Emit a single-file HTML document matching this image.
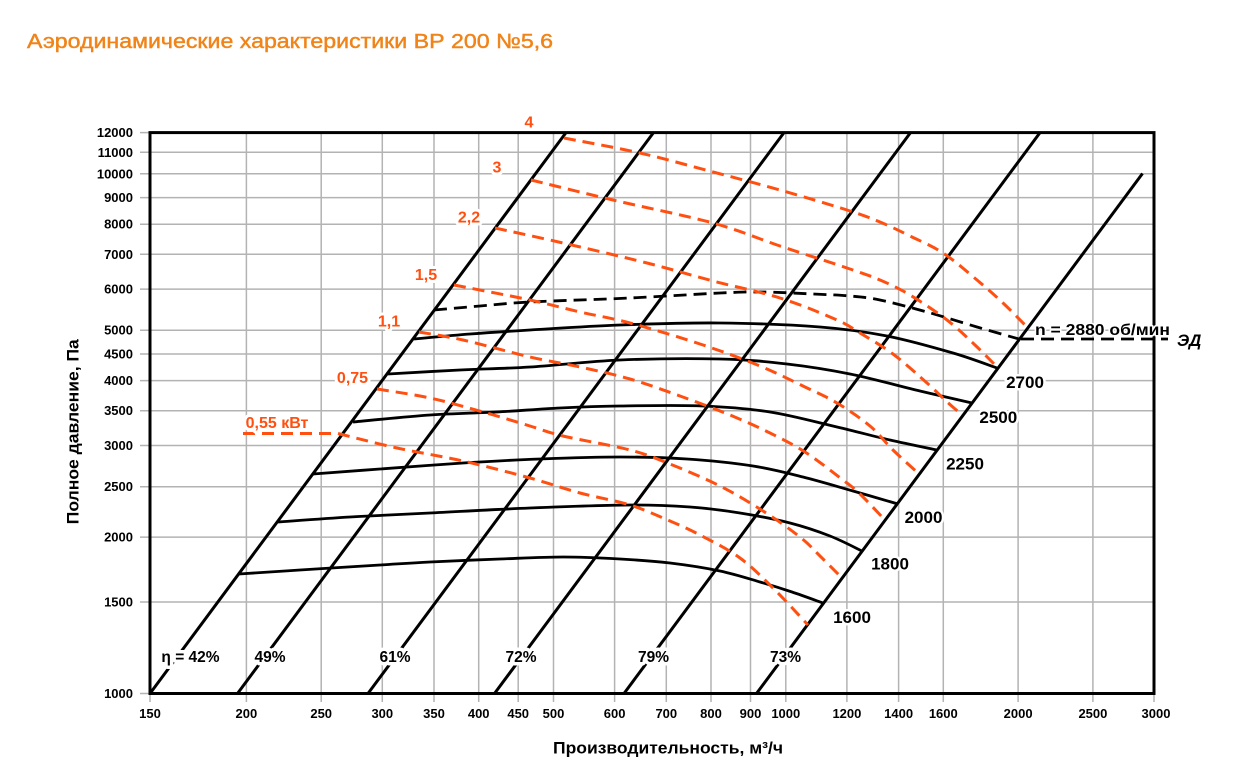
<!DOCTYPE html>
<html><head><meta charset="utf-8">
<style>
html,body{margin:0;padding:0;background:#fff;}
svg{display:block;}
.t{font-family:"Liberation Sans",Arial,sans-serif;font-weight:bold;}
</style></head>
<body>
<svg id="chart" width="1233" height="778" viewBox="0 0 1233 778" xmlns="http://www.w3.org/2000/svg">
<rect x="0" y="0" width="1233" height="778" fill="#fff"/>
<!-- Title -->
<text x="27" y="48" font-family="Liberation Sans, sans-serif" font-size="20.5" fill="#f08419" stroke="#f08419" stroke-width="0.45" textLength="526" lengthAdjust="spacingAndGlyphs">Аэродинамические характеристики ВР 200 №5,6</text>

<!-- Grid -->
<g stroke="#b3b3b3" stroke-width="1.5" fill="none">
<line x1="246.4" y1="132.6" x2="246.4" y2="702"/>
<line x1="321.2" y1="132.6" x2="321.2" y2="702"/>
<line x1="382.3" y1="132.6" x2="382.3" y2="702"/>
<line x1="434.0" y1="132.6" x2="434.0" y2="702"/>
<line x1="478.7" y1="132.6" x2="478.7" y2="702"/>
<line x1="518.2" y1="132.6" x2="518.2" y2="702"/>
<line x1="553.5" y1="132.6" x2="553.5" y2="702"/>
<line x1="614.6" y1="132.6" x2="614.6" y2="702"/>
<line x1="666.3" y1="132.6" x2="666.3" y2="702"/>
<line x1="711.0" y1="132.6" x2="711.0" y2="702"/>
<line x1="750.5" y1="132.6" x2="750.5" y2="702"/>
<line x1="785.8" y1="132.6" x2="785.8" y2="702"/>
<line x1="846.9" y1="132.6" x2="846.9" y2="702"/>
<line x1="898.6" y1="132.6" x2="898.6" y2="702"/>
<line x1="943.3" y1="132.6" x2="943.3" y2="702"/>
<line x1="1018.1" y1="132.6" x2="1018.1" y2="702"/>
<line x1="1092.9" y1="132.6" x2="1092.9" y2="702"/>
<line x1="150" y1="693.5" x2="150" y2="702"/>
<line x1="1154" y1="693.5" x2="1154" y2="702"/>

<line x1="140" y1="602.0" x2="1154" y2="602.0"/>
<line x1="140" y1="537.1" x2="1154" y2="537.1"/>
<line x1="140" y1="486.7" x2="1154" y2="486.7"/>
<line x1="140" y1="445.5" x2="1154" y2="445.5"/>
<line x1="140" y1="410.7" x2="1154" y2="410.7"/>
<line x1="140" y1="380.6" x2="1154" y2="380.6"/>
<line x1="140" y1="354.0" x2="1154" y2="354.0"/>
<line x1="140" y1="330.2" x2="1154" y2="330.2"/>
<line x1="140" y1="289.1" x2="1154" y2="289.1"/>
<line x1="140" y1="254.3" x2="1154" y2="254.3"/>
<line x1="140" y1="224.2" x2="1154" y2="224.2"/>
<line x1="140" y1="197.6" x2="1154" y2="197.6"/>
<line x1="140" y1="173.8" x2="1154" y2="173.8"/>
<line x1="140" y1="152.3" x2="1154" y2="152.3"/>
<line x1="140" y1="132.6" x2="150" y2="132.6"/>
<line x1="140" y1="693.5" x2="150" y2="693.5"/>
</g>

<!-- Y tick labels -->
<g class="t" font-size="13" fill="#000" text-anchor="end">
<text x="133" y="137.1">12000</text>
<text x="133" y="156.8">11000</text>
<text x="133" y="178.3">10000</text>
<text x="133" y="202.1">9000</text>
<text x="133" y="228.7">8000</text>
<text x="133" y="258.8">7000</text>
<text x="133" y="293.6">6000</text>
<text x="133" y="334.7">5000</text>
<text x="133" y="358.5">4500</text>
<text x="133" y="385.1">4000</text>
<text x="133" y="415.2">3500</text>
<text x="133" y="450.0">3000</text>
<text x="133" y="491.2">2500</text>
<text x="133" y="541.6">2000</text>
<text x="133" y="606.5">1500</text>
<text x="133" y="698.0">1000</text>
</g>

<!-- X tick labels -->
<g class="t" font-size="13" fill="#000" text-anchor="middle">
<text x="150" y="718">150</text>
<text x="246.4" y="718">200</text>
<text x="321.2" y="718">250</text>
<text x="382.3" y="718">300</text>
<text x="434.0" y="718">350</text>
<text x="478.7" y="718">400</text>
<text x="518.2" y="718">450</text>
<text x="553.5" y="718">500</text>
<text x="614.6" y="718">600</text>
<text x="666.3" y="718">700</text>
<text x="711.0" y="718">800</text>
<text x="750.5" y="718">900</text>
<text x="785.8" y="718">1000</text>
<text x="846.9" y="718">1200</text>
<text x="898.6" y="718">1400</text>
<text x="943.3" y="718">1600</text>
<text x="1018.1" y="718">2000</text>
<text x="1092.9" y="718">2500</text>
<text x="1156" y="718">3000</text>
</g>

<!-- Axis titles -->
<text class="t" x="668" y="753.5" font-size="17" text-anchor="middle" textLength="230" lengthAdjust="spacingAndGlyphs">Производительность, м³/ч</text>
<text class="t" transform="translate(78.5,431.7) rotate(-90)" font-size="17" text-anchor="middle" textLength="185" lengthAdjust="spacingAndGlyphs">Полное давление, Па</text>

<!-- Efficiency lines -->
<g stroke="#000" stroke-width="3" fill="none">
<line x1="150" y1="693.5" x2="566" y2="132.6"/>
<line x1="237.5" y1="693.5" x2="653.5" y2="132.6"/>
<line x1="368" y1="693.5" x2="784" y2="132.6"/>
<line x1="494.5" y1="693.5" x2="910.5" y2="132.6"/>
<line x1="624" y1="693.5" x2="1040" y2="132.6"/>
<line x1="756.5" y1="693.5" x2="1142.5" y2="173.5"/>
</g>

<!-- Speed curves -->
<g stroke="#000" stroke-width="2.8" fill="none" stroke-linejoin="round" stroke-linecap="butt">
<polyline class="s" points="239,574 300,570 380,565 430,562 500,559 563,557 620,559 670,563 720,571 760,582 792,592 823,603"/>
<polyline class="s" points="278,522 350,517 430,513 530,508 630,505 690,507 740,513 790,523 830,536 862,551"/>
<polyline class="s" points="313,474 380,469 463,463 540,459 620,457 687,459 753,466 803,477 853,491 898,504"/>
<polyline class="s" points="353,422 430,415 497,412 560,408 620,406 703,406 770,412 837,427 890,440 937,450"/>
<polyline class="s" points="388,374 460,370 530,367 620,360 720,359 787,364 850,374 920,391 972,403"/>
<polyline class="s" points="414,339 470,334 530,330 620,325 720,323 820,327 887,336 953,353 997,368"/>
<polyline class="s" stroke-dasharray="13 7" points="434,310 480,306 530,302 630,298 720,293 763,292 813,294 850,296 880,300 927,312 977,327 1019,339"/>
<line x1="1021" y1="339" x2="1168" y2="339" stroke-dasharray="13 7"/>
</g>

<!-- Power curves -->
<g stroke="#ff5011" stroke-width="3" fill="none" stroke-linejoin="round" stroke-dasharray="12 7">
<polyline points="243,433.5 338,433.5"/>
<polyline class="s" points="338,433.5 397,448 463,461 530,478 580,493 630,505 670,521 700,535 740,558 775,590 808,625"/>
<polyline class="s" points="377,389 430,398 483,412 530,426 563,436 630,450 670,464 720,486 763,511 800,537 820,556 842,578"/>
<polyline class="s" points="419,332 463,340 530,357 580,367 630,379 680,396 730,415 770,433 805,452 843,480 860,494 884,519"/>
<polyline class="s" points="454,285 530,300 580,312 630,323 700,344 760,366 805,387 837,403 870,426 893,450 918,473"/>
<polyline class="s" points="495,228 563,243 647,263 713,281 780,298 837,320 860,333 893,354 927,383 945,400 962,415"/>
<polyline class="s" points="531,180 613,200 713,223 780,246 847,268 880,280 910,295 947,320 975,345 998,368"/>
<polyline class="s" points="564,138 640,153 713,172 780,190 847,210 880,222 910,236 943,253 977,280 1003,303 1027,327"/>
</g>

<!-- Efficiency labels -->
<g class="t" font-size="15.5" fill="#000" text-anchor="middle" stroke="#fff" stroke-width="7" stroke-linejoin="round" paint-order="stroke">
<text x="190.5" y="662">η = 42%</text>
<text x="270" y="662">49%</text>
<text x="395" y="662">61%</text>
<text x="521" y="662">72%</text>
<text x="653.5" y="662">79%</text>
<text x="785.5" y="662">73%</text>
</g>

<!-- Power labels -->
<g class="t" font-size="16" fill="#ff5011" text-anchor="middle" stroke="#fff" stroke-width="6" stroke-linejoin="round" paint-order="stroke">
<text x="529" y="127.5">4</text>
<text x="497" y="172.5">3</text>
<text x="469" y="222.5">2,2</text>
<text x="426" y="280">1,5</text>
<text x="389" y="326.5">1,1</text>
<text x="352.5" y="383">0,75</text>
<text x="277" y="428">0,55 кВт</text>
</g>

<!-- Speed labels -->
<g class="t" font-size="17" fill="#000" text-anchor="middle" stroke="#fff" stroke-width="5" stroke-linejoin="round" paint-order="stroke">
<text x="852" y="623">1600</text>
<text x="890" y="569.5">1800</text>
<text x="923.5" y="523">2000</text>
<text x="965" y="469.5">2250</text>
<text x="998.3" y="423">2500</text>
<text x="1025" y="388">2700</text>
</g>

<!-- Plot border -->
<rect x="150" y="132.6" width="1004" height="560.9" fill="none" stroke="#000" stroke-width="3"/>

<text class="t" x="1035" y="335" font-size="16" fill="#000" stroke="#fff" stroke-width="3" stroke-linejoin="round" paint-order="stroke" textLength="135" lengthAdjust="spacingAndGlyphs">n = 2880 об/мин</text>
<text class="t" x="1177" y="346" font-size="17" font-style="italic" fill="#000">ЭД</text>
</svg>
<script>
(function(){
  var ns="http://www.w3.org/2000/svg";
  var pls=document.querySelectorAll("polyline.s");
  for(var k=0;k<pls.length;k++){
    var pl=pls[k];
    var nums=pl.getAttribute("points").trim().split(/[\s,]+/).map(Number);
    var p=[];
    for(var i=0;i<nums.length;i+=2)p.push([nums[i],nums[i+1]]);
    if(p.length<3)continue;
    var d="M"+p[0][0]+","+p[0][1];
    for(var i=0;i<p.length-1;i++){
      var p0=p[i-1]||p[i],p1=p[i],p2=p[i+1],p3=p[i+2]||p[i+1];
      var c1x=p1[0]+(p2[0]-p0[0])/6,c1y=p1[1]+(p2[1]-p0[1])/6;
      var c2x=p2[0]-(p3[0]-p1[0])/6,c2y=p2[1]-(p3[1]-p1[1])/6;
      d+=" C"+c1x.toFixed(2)+","+c1y.toFixed(2)+" "+c2x.toFixed(2)+","+c2y.toFixed(2)+" "+p2[0]+","+p2[1];
    }
    var path=document.createElementNS(ns,"path");
    for(var a=0;a<pl.attributes.length;a++){
      var at=pl.attributes[a];
      if(at.name!=="points"&&at.name!=="class")path.setAttribute(at.name,at.value);
    }
    path.setAttribute("d",d);
    pl.parentNode.replaceChild(path,pl);
  }
})();
</script>
</body></html>
